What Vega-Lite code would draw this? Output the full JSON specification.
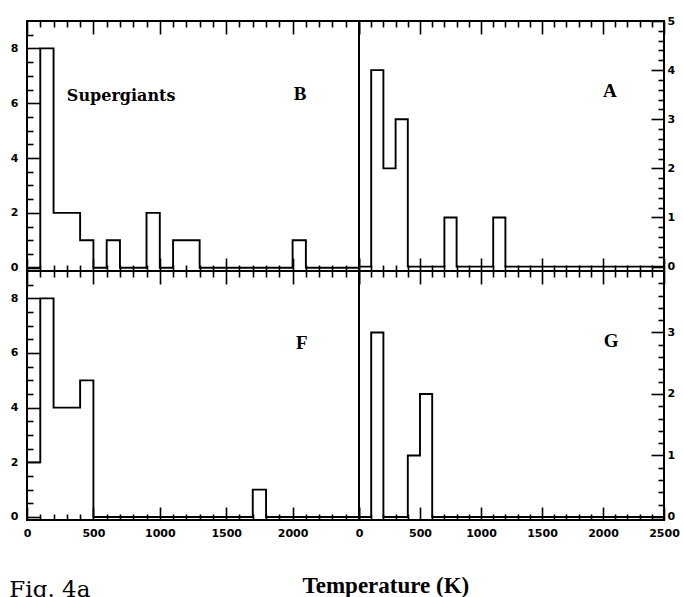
{
  "$schema": "https://vega.github.io/schema/vega-lite/v6.json",
  "background": "white",
  "padding": {"left": 9, "top": 14, "right": 5, "bottom": 0},
  "bounds": "flush",
  "spacing": 0,
  "columns": 2,
  "title": {"text": "Fig. 4a", "orient": "bottom", "anchor": "start", "font": "DejaVu Serif", "fontSize": 23, "fontWeight": "normal", "color": "black", "offset": -19},
  "config": {
    "view": {"stroke": "black", "strokeWidth": 2},
    "axis": {"tickColor": "black", "tickWidth": 1.6, "labelColor": "black", "labelFont": "DejaVu Sans", "labelFontWeight": "bold", "labelFontSize": 11, "grid": false, "domain": false, "labelFlush": false, "labelOverlap": false, "titleColor": "black"}
  },
  "datasets": {
    "B": [{"t":0,"n":0},{"t":100,"n":8},{"t":200,"n":2},{"t":300,"n":2},{"t":400,"n":1},{"t":500,"n":0},{"t":600,"n":1},{"t":700,"n":0},{"t":800,"n":0},{"t":900,"n":2},{"t":1000,"n":0},{"t":1100,"n":1},{"t":1200,"n":1},{"t":1300,"n":0},{"t":1400,"n":0},{"t":1500,"n":0},{"t":1600,"n":0},{"t":1700,"n":0},{"t":1800,"n":0},{"t":1900,"n":0},{"t":2000,"n":1},{"t":2100,"n":0},{"t":2200,"n":0},{"t":2300,"n":0},{"t":2400,"n":0},{"t":2500,"n":0}],
    "A": [{"t":0,"n":0},{"t":100,"n":4},{"t":200,"n":2},{"t":300,"n":3},{"t":400,"n":0},{"t":500,"n":0},{"t":600,"n":0},{"t":700,"n":1},{"t":800,"n":0},{"t":900,"n":0},{"t":1000,"n":0},{"t":1100,"n":1},{"t":1200,"n":0},{"t":1300,"n":0},{"t":1400,"n":0},{"t":1500,"n":0},{"t":1600,"n":0},{"t":1700,"n":0},{"t":1800,"n":0},{"t":1900,"n":0},{"t":2000,"n":0},{"t":2100,"n":0},{"t":2200,"n":0},{"t":2300,"n":0},{"t":2400,"n":0},{"t":2500,"n":0}],
    "F": [{"t":0,"n":2},{"t":100,"n":8},{"t":200,"n":4},{"t":300,"n":4},{"t":400,"n":5},{"t":500,"n":0},{"t":600,"n":0},{"t":700,"n":0},{"t":800,"n":0},{"t":900,"n":0},{"t":1000,"n":0},{"t":1100,"n":0},{"t":1200,"n":0},{"t":1300,"n":0},{"t":1400,"n":0},{"t":1500,"n":0},{"t":1600,"n":0},{"t":1700,"n":1},{"t":1800,"n":0},{"t":1900,"n":0},{"t":2000,"n":0},{"t":2100,"n":0},{"t":2200,"n":0},{"t":2300,"n":0},{"t":2400,"n":0},{"t":2500,"n":0}],
    "G": [{"t":0,"n":0},{"t":100,"n":3},{"t":200,"n":0},{"t":300,"n":0},{"t":400,"n":1},{"t":500,"n":2},{"t":600,"n":0},{"t":700,"n":0},{"t":800,"n":0},{"t":900,"n":0},{"t":1000,"n":0},{"t":1100,"n":0},{"t":1200,"n":0},{"t":1300,"n":0},{"t":1400,"n":0},{"t":1500,"n":0},{"t":1600,"n":0},{"t":1700,"n":0},{"t":1800,"n":0},{"t":1900,"n":0},{"t":2000,"n":0},{"t":2100,"n":0},{"t":2200,"n":0},{"t":2300,"n":0},{"t":2400,"n":0},{"t":2500,"n":0}],
    "one": [{}]
  },
  "concat": [
    {
      "width": 332, "height": 250,
      "layer": [
        {
          "data": {"name": "B"},
          "mark": {"type": "line", "interpolate": "step-after", "color": "black", "strokeWidth": 1.9},
          "encoding": {
            "x": {"field": "t", "type": "quantitative", "scale": {"domain": [0, 2500], "nice": false, "zero": false},
              "axis": {"orient": "bottom", "values": [0,100,200,300,400,500,600,700,800,900,1000,1100,1200,1300,1400,1500,1600,1700,1800,1900,2000,2100,2200,2300,2400,2500], "labels": false, "title": null,
                "tickSize": {"condition": {"test": "datum.value % 500 === 0", "value": -13}, "value": -6}}},
            "y": {"field": "n", "type": "quantitative", "scale": {"domain": [-0.12, 9], "nice": false, "zero": false},
              "axis": {"orient": "left", "values": [0,0.5,1,1.5,2,2.5,3,3.5,4,4.5,5,5.5,6,6.5,7,7.5,8,8.5], "title": null, "labelPadding": 22,
                "labelExpr": "datum.value % 2 === 0 ? '' + datum.value : ''",
                "tickSize": {"condition": {"test": "datum.value % 2 === 0", "value": -13}, "value": -6}}}
          }
        },
        {
          "data": {"name": "one"},
          "mark": {"type": "text", "font": "DejaVu Serif", "fontWeight": "bold", "fontSize": 16, "align": "left", "baseline": "middle", "color": "black"},
          "encoding": {
            "x": {"datum": 300, "type": "quantitative",
              "axis": {"orient": "top", "values": [0,100,200,300,400,500,600,700,800,900,1000,1100,1200,1300,1400,1500,1600,1700,1800,1900,2000,2100,2200,2300,2400,2500], "labels": false, "title": null,
                "tickSize": {"condition": {"test": "datum.value % 500 === 0", "value": -13}, "value": -6}}},
            "y": {"datum": 6.26, "type": "quantitative",
              "axis": {"orient": "left", "values": [0,0.5,1,1.5,2,2.5,3,3.5,4,4.5,5,5.5,6,6.5,7,7.5,8,8.5], "title": null, "labelPadding": 22,
                "labelExpr": "datum.value % 2 === 0 ? '' + datum.value : ''",
                "tickSize": {"condition": {"test": "datum.value % 2 === 0", "value": -13}, "value": -6}}},
            "text": {"value": "Supergiants"}
          }
        },
        {
          "data": {"name": "one"},
          "mark": {"type": "text", "font": "Liberation Serif", "fontWeight": "bold", "fontSize": 19, "align": "center", "baseline": "middle", "color": "black"},
          "encoding": {
            "x": {"datum": 2056, "type": "quantitative", "axis": null},
            "y": {"datum": 6.34, "type": "quantitative",
              "axis": {"orient": "left", "values": [0,0.5,1,1.5,2,2.5,3,3.5,4,4.5,5,5.5,6,6.5,7,7.5,8,8.5], "title": null, "labelPadding": 22,
                "labelExpr": "datum.value % 2 === 0 ? '' + datum.value : ''",
                "tickSize": {"condition": {"test": "datum.value % 2 === 0", "value": -13}, "value": -6}}},
            "text": {"value": "B"}
          }
        }
      ],
      "resolve": {"axis": {"x": "independent"}}
    },
    {
      "width": 305, "height": 250,
      "layer": [
        {
          "data": {"name": "A"},
          "mark": {"type": "line", "interpolate": "step-after", "color": "black", "strokeWidth": 1.9},
          "encoding": {
            "x": {"field": "t", "type": "quantitative", "scale": {"domain": [0, 2500], "nice": false, "zero": false},
              "axis": {"orient": "bottom", "values": [0,100,200,300,400,500,600,700,800,900,1000,1100,1200,1300,1400,1500,1600,1700,1800,1900,2000,2100,2200,2300,2400,2500], "labels": false, "title": null,
                "tickSize": {"condition": {"test": "datum.value % 500 === 0", "value": -13}, "value": -6}}},
            "y": {"field": "n", "type": "quantitative", "scale": {"domain": [-0.09, 5], "nice": false, "zero": false},
              "axis": {"orient": "right", "values": [0,0.2,0.4,0.6,0.8,1,1.2,1.4,1.6,1.8,2,2.2,2.4,2.6,2.8,3,3.2,3.4,3.6,3.8,4,4.2,4.4,4.6,4.8,5], "title": null, "labelPadding": 16,
                "labelExpr": "datum.value % 1 === 0 ? '' + datum.value : ''",
                "tickSize": {"condition": {"test": "datum.value % 1 === 0", "value": -13}, "value": -6}}}
          }
        },
        {
          "data": {"name": "one"},
          "mark": {"type": "text", "font": "Liberation Serif", "fontWeight": "bold", "fontSize": 19, "align": "center", "baseline": "middle", "color": "black"},
          "encoding": {
            "x": {"datum": 2057, "type": "quantitative",
              "axis": {"orient": "top", "values": [0,100,200,300,400,500,600,700,800,900,1000,1100,1200,1300,1400,1500,1600,1700,1800,1900,2000,2100,2200,2300,2400,2500], "labels": false, "title": null,
                "tickSize": {"condition": {"test": "datum.value % 500 === 0", "value": -13}, "value": -6}}},
            "y": {"datum": 3.57, "type": "quantitative",
              "axis": {"orient": "right", "values": [0,0.2,0.4,0.6,0.8,1,1.2,1.4,1.6,1.8,2,2.2,2.4,2.6,2.8,3,3.2,3.4,3.6,3.8,4,4.2,4.4,4.6,4.8,5], "title": null, "labelPadding": 16,
                "labelExpr": "datum.value % 1 === 0 ? '' + datum.value : ''",
                "tickSize": {"condition": {"test": "datum.value % 1 === 0", "value": -13}, "value": -6}}},
            "text": {"value": "A"}
          }
        }
      ],
      "resolve": {"axis": {"x": "independent"}}
    },
    {
      "width": 332, "height": 249,
      "layer": [
        {
          "data": {"name": "F"},
          "mark": {"type": "line", "interpolate": "step-after", "color": "black", "strokeWidth": 1.9},
          "encoding": {
            "x": {"field": "t", "type": "quantitative", "scale": {"domain": [0, 2500], "nice": false, "zero": false},
              "axis": {"orient": "bottom", "values": [0,100,200,300,400,500,600,700,800,900,1000,1100,1200,1300,1400,1500,1600,1700,1800,1900,2000,2100,2200,2300,2400,2500], "labelPadding": 20,
                "labelExpr": "datum.value % 500 === 0 && datum.value < 2500 ? '' + datum.value : ''",
                "tickSize": {"condition": {"test": "datum.value % 500 === 0", "value": -13}, "value": -6},
                "title": "Temperature (K)", "titleFont": "Liberation Serif", "titleFontSize": 23, "titleFontWeight": "bold",
                "titleX": 275, "titleY": 72, "titleAlign": "left", "titleBaseline": "alphabetic"}},
            "y": {"field": "n", "type": "quantitative", "scale": {"domain": [-0.11, 9], "nice": false, "zero": false},
              "axis": {"orient": "left", "values": [0,0.5,1,1.5,2,2.5,3,3.5,4,4.5,5,5.5,6,6.5,7,7.5,8,8.5], "title": null, "labelPadding": 22,
                "labelExpr": "datum.value % 2 === 0 ? '' + datum.value : ''",
                "tickSize": {"condition": {"test": "datum.value % 2 === 0", "value": -13}, "value": -6}}}
          }
        },
        {
          "data": {"name": "one"},
          "mark": {"type": "text", "font": "Liberation Serif", "fontWeight": "bold", "fontSize": 19, "align": "center", "baseline": "middle", "color": "black"},
          "encoding": {
            "x": {"datum": 2070, "type": "quantitative",
              "axis": {"orient": "top", "values": [0,100,200,300,400,500,600,700,800,900,1000,1100,1200,1300,1400,1500,1600,1700,1800,1900,2000,2100,2200,2300,2400,2500], "labels": false, "title": null,
                "tickSize": {"condition": {"test": "datum.value % 500 === 0", "value": -13}, "value": -6}}},
            "y": {"datum": 6.37, "type": "quantitative",
              "axis": {"orient": "left", "values": [0,0.5,1,1.5,2,2.5,3,3.5,4,4.5,5,5.5,6,6.5,7,7.5,8,8.5], "title": null, "labelPadding": 22,
                "labelExpr": "datum.value % 2 === 0 ? '' + datum.value : ''",
                "tickSize": {"condition": {"test": "datum.value % 2 === 0", "value": -13}, "value": -6}}},
            "text": {"value": "F"}
          }
        }
      ],
      "resolve": {"axis": {"x": "independent"}}
    },
    {
      "width": 305, "height": 249,
      "layer": [
        {
          "data": {"name": "G"},
          "mark": {"type": "line", "interpolate": "step-after", "color": "black", "strokeWidth": 1.9},
          "encoding": {
            "x": {"field": "t", "type": "quantitative", "scale": {"domain": [0, 2500], "nice": false, "zero": false},
              "axis": {"orient": "bottom", "values": [0,100,200,300,400,500,600,700,800,900,1000,1100,1200,1300,1400,1500,1600,1700,1800,1900,2000,2100,2200,2300,2400,2500], "labelPadding": 20, "title": null,
                "labelExpr": "datum.value % 500 === 0 ? '' + datum.value : ''",
                "tickSize": {"condition": {"test": "datum.value % 500 === 0", "value": -13}, "value": -6}}},
            "y": {"field": "n", "type": "quantitative", "scale": {"domain": [-0.05, 4], "nice": false, "zero": false},
              "axis": {"orient": "right", "values": [0,0.2,0.4,0.6,0.8,1,1.2,1.4,1.6,1.8,2,2.2,2.4,2.6,2.8,3,3.2,3.4,3.6,3.8], "title": null, "labelPadding": 16,
                "labelExpr": "datum.value % 1 === 0 ? '' + datum.value : ''",
                "tickSize": {"condition": {"test": "datum.value % 1 === 0", "value": -13}, "value": -6}}}
          }
        },
        {
          "data": {"name": "one"},
          "mark": {"type": "text", "font": "Liberation Serif", "fontWeight": "bold", "fontSize": 19, "align": "center", "baseline": "middle", "color": "black"},
          "encoding": {
            "x": {"datum": 2066, "type": "quantitative",
              "axis": {"orient": "top", "values": [0,100,200,300,400,500,600,700,800,900,1000,1100,1200,1300,1400,1500,1600,1700,1800,1900,2000,2100,2200,2300,2400,2500], "labels": false, "title": null,
                "tickSize": {"condition": {"test": "datum.value % 500 === 0", "value": -13}, "value": -6}}},
            "y": {"datum": 2.86, "type": "quantitative",
              "axis": {"orient": "right", "values": [0,0.2,0.4,0.6,0.8,1,1.2,1.4,1.6,1.8,2,2.2,2.4,2.6,2.8,3,3.2,3.4,3.6,3.8], "title": null, "labelPadding": 16,
                "labelExpr": "datum.value % 1 === 0 ? '' + datum.value : ''",
                "tickSize": {"condition": {"test": "datum.value % 1 === 0", "value": -13}, "value": -6}}},
            "text": {"value": "G"}
          }
        }
      ],
      "resolve": {"axis": {"x": "independent"}}
    }
  ]
}
